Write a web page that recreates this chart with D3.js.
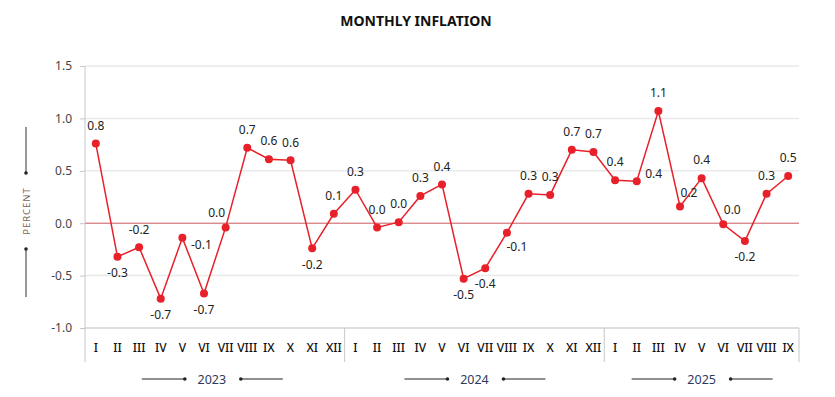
<!DOCTYPE html>
<html>
<head>
<meta charset="utf-8">
<script src="https://cdn.jsdelivr.net/npm/d3@7"></script>
<style>
  html, body { margin: 0; padding: 0; background: #fff; }
  svg { display: block; font-family: "Noto Sans", "Open Sans", sans-serif; }
</style>
</head>
<body>
<svg id="chart" width="835" height="397"></svg>
<script>
// ---- data ----
const months = ["I","II","III","IV","V","VI","VII","VIII","IX","X","XI","XII",
                "I","II","III","IV","V","VI","VII","VIII","IX","X","XI","XII",
                "I","II","III","IV","V","VI","VII","VIII","IX"];
const years = ["2023", "2024", "2025"];
const monthsPerYear = [12, 12, 9];
const inflation = [0.76,-0.32,-0.23,-0.72,-0.14,-0.67,-0.04,0.72,0.61,0.60,-0.24,0.09,
                   0.32,-0.04,0.01,0.26,0.37,-0.53,-0.43,-0.09,0.28,0.27,0.70,0.68,
                   0.41,0.40,1.07,0.16,0.43,-0.01,-0.17,0.28,0.45];
const valueLabels = ["0.8","-0.3","-0.2","-0.7","-0.1","-0.7","0.0","0.7","0.6","0.6","-0.2","0.1",
                     "0.3","0.0","0.0","0.3","0.4","-0.5","-0.4","-0.1","0.3","0.3","0.7","0.7",
                     "0.4","0.4","1.1","0.2","0.4","0.0","-0.2","0.3","0.5"];
const labelPlacement = ["a","b","a","b","rb","b","al","a","a","a","b","a",
                        "a","a","a","a","a","b","b","br","a","a","a","a",
                        "a","r","a","ar","a","ar","b","a","a"];
const yTicks = [-1.0, -0.5, 0.0, 0.5, 1.0, 1.5];
const chartTitle = "MONTHLY INFLATION";
const yTitle = "PERCENT";

// ---- layout ----
const svg = d3.select("#chart");
const mLeft = 85, mRight = 799, mTop = 66, mBottom = 328, axisBottom = 362;
const red = "#e8202a";

const x = d3.scaleBand().domain(d3.range(months.length)).range([mLeft, mRight]).padding(0);
const y = d3.scaleLinear().domain([-1.0, 1.5]).range([mBottom, mTop]);
const fmt = v => (v < 0 ? "-" : "") + Math.abs(v).toFixed(1);

// title
svg.append("text").attr("x", 416).attr("y", 26).attr("text-anchor", "middle")
  .attr("font-size", 14).attr("font-weight", 700).attr("fill", "#111").text(chartTitle);

// gridlines
svg.append("g").selectAll("line").data(yTicks.filter(t => t !== 0 && t !== -1))
  .join("line")
  .attr("x1", mLeft).attr("x2", mRight)
  .attr("y1", d => y(d)).attr("y2", d => y(d))
  .attr("stroke", "#e9e9e9").attr("stroke-width", 1.5);

// y axis ticks/labels
const yAxis = d3.axisLeft(y).tickValues(yTicks).tickFormat(fmt).tickSize(5).tickPadding(8);
const gy = svg.append("g").attr("transform", `translate(${mLeft},0)`).call(yAxis);
gy.select(".domain").remove();
gy.selectAll(".tick line").attr("stroke", "#c8c8c8");
gy.selectAll(".tick text").attr("font-size", 12).attr("fill", "#444")
  .attr("font-family", "'Noto Sans', sans-serif");

// bottom line at -1.0
svg.append("line").attr("x1", mLeft).attr("x2", mRight).attr("y1", y(-1)).attr("y2", y(-1))
  .attr("stroke", "#bdbdbd").attr("stroke-width", 1);

// zero line
svg.append("line").attr("x1", mLeft).attr("x2", mRight).attr("y1", y(0)).attr("y2", y(0))
  .attr("stroke", "#c8575a").attr("stroke-width", 1);

// y axis vertical line
svg.append("line").attr("x1", mLeft).attr("x2", mLeft).attr("y1", mTop).attr("y2", axisBottom)
  .attr("stroke", "#c8c8c8").attr("stroke-width", 1);

// year separators
let cum = 0;
const yearRanges = monthsPerYear.map(n => { const s = cum; cum += n; return [s, cum]; });
yearRanges.forEach(([s, e]) => {
  const xe = e < months.length ? x(e) : mRight;
  svg.append("line").attr("x1", xe).attr("x2", xe).attr("y1", mBottom).attr("y2", axisBottom)
    .attr("stroke", "#c8c8c8").attr("stroke-width", 1);
});

// month labels
svg.append("g").selectAll("text").data(months).join("text")
  .attr("x", (d, i) => x(i) + x.bandwidth() / 2).attr("y", 351.5)
  .attr("text-anchor", "middle").attr("font-size", 12).attr("font-weight", 500)
  .attr("fill", "#111")
  .text(d => d);

// year labels with decorations
years.forEach((yr, i) => {
  const [s, e] = yearRanges[i];
  const x0 = x(s), x1 = e < months.length ? x(e) : mRight;
  const cx = (x0 + x1) / 2 - (i === 0 ? 3 : 0);
  const cy = 379;
  const g = svg.append("g");
  g.append("text").attr("x", cx).attr("y", cy + 4.5).attr("text-anchor", "middle")
    .attr("font-size", 12.5).attr("fill", "#2e3a5c").text(yr);
  g.append("line").attr("x1", cx - 70).attr("x2", cx - 27).attr("y1", cy).attr("y2", cy)
    .attr("stroke", "#222").attr("stroke-width", 1);
  g.append("circle").attr("cx", cx - 27).attr("cy", cy).attr("r", 1.8).attr("fill", "#222");
  g.append("circle").attr("cx", cx + 29).attr("cy", cy).attr("r", 1.8).attr("fill", "#222");
  g.append("line").attr("x1", cx + 29).attr("x2", cx + 71).attr("y1", cy).attr("y2", cy)
    .attr("stroke", "#222").attr("stroke-width", 1);
});

// y title with decorations
const yc = 211, px = 26;
svg.append("text").attr("transform", `translate(${px + 3.5},${yc}) rotate(-90)`)
  .attr("text-anchor", "middle").attr("font-size", 9.5).attr("letter-spacing", 1)
  .attr("fill", "#7a6452").text(yTitle);
svg.append("line").attr("x1", px).attr("x2", px).attr("y1", yc - 84).attr("y2", yc - 38)
  .attr("stroke", "#333").attr("stroke-width", 1);
svg.append("circle").attr("cx", px).attr("cy", yc - 38).attr("r", 1.8).attr("fill", "#222");
svg.append("circle").attr("cx", px).attr("cy", yc + 38).attr("r", 1.8).attr("fill", "#222");
svg.append("line").attr("x1", px).attr("x2", px).attr("y1", yc + 38).attr("y2", yc + 86)
  .attr("stroke", "#333").attr("stroke-width", 1);

// line
const cxOf = i => x(i) + x.bandwidth() / 2;
const line = d3.line().x((d, i) => cxOf(i)).y(d => y(d));
svg.append("path").datum(inflation).attr("d", line)
  .attr("fill", "none").attr("stroke", red).attr("stroke-width", 1.5);

// points
svg.append("g").selectAll("circle").data(inflation).join("circle")
  .attr("cx", (d, i) => cxOf(i)).attr("cy", d => y(d)).attr("r", 4).attr("fill", red);

// value labels
const off = {
  a: [0, -18], b: [0, 16], r: [17, -7], rb: [19, 7],
  al: [-9, -15], ar: [9, -14], br: [10, 14]
};
svg.append("g").selectAll("text").data(inflation).join("text")
  .attr("x", (d, i) => cxOf(i) + off[labelPlacement[i]][0])
  .attr("y", (d, i) => y(d) + off[labelPlacement[i]][1])
  .attr("dy", "0.35em").attr("text-anchor", "middle")
  .attr("font-size", 12).attr("fill", "#222")
  .text((d, i) => valueLabels[i]);
</script>
</body>
</html>
